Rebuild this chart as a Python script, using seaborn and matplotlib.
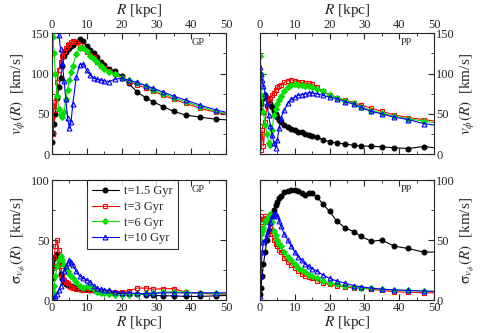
"""Rotation curves and velocity dispersion, GP vs PP, four epochs."""

import matplotlib

matplotlib.use("Agg")
import matplotlib.pyplot as plt
import seaborn as sns
from matplotlib.ticker import MultipleLocator

# ---------------------------------------------------------------------------
# Data
# ---------------------------------------------------------------------------

R = [0.1, 0.3, 0.6, 1.0, 1.5, 2.0, 2.5, 3.0, 3.5, 4.0, 4.5, 5.0, 5.5, 6.0,
     7.0, 8.0, 9.0, 10.0, 11.0, 12.0, 13.0, 14.0, 15.0, 16.5, 18.0, 20.0,
     22.0, 24.5, 27.0, 29.0, 32.0, 35.0, 38.5, 42.5, 47.0, 52.0]

EPOCAS = ["t=1.5 Gyr", "t=3 Gyr", "t=6 Gyr", "t=10 Gyr"]

# v_phi, GP
vphi_gp_15 = [15, 26, 38, 50, 70, 83, 95, 110, 122, 127, 130, 132, 134, 136,
              139, 143, 140, 134, 129, 125, 120, 115, 111, 106, 103, 97,
              88, 77, 70, 65, 59, 53, 48.5, 46, 43.5, 42]
vphi_gp_3 = [45, 25, 65, 55, 90, 105, 115, 122, 128, 132, 135, 137, 139, 140,
             139, 136, 132, 127, 123, 120, 115, 110, 107, 103, 100, 94,
             90, 86, 82, 78, 73, 68, 63, 57, 52, 48]
vphi_gp_6 = [152, 145, 125, 100, 72, 56, 48, 46, 52, 68, 80, 92, 102, 110,
             124, 132, 132, 128, 122, 118, 114, 110, 106, 102, 100, 95,
             92, 88, 85, 80, 75, 70, 65, 59, 53, 49]
vphi_gp_10 = [200, 200, 190, 175, 160, 148, 130, 113, 91, 68, 45, 32, 40, 62,
              96, 111, 112, 104, 98, 94, 93, 92, 91, 90, 93, 94,
              92, 89, 85, 82, 77, 72, 67, 61, 55, 50]

# v_phi, PP
vphi_pp_15 = [55, 62, 68, 71, 73, 70, 66, 62, 58, 53, 50, 46, 43, 40,
              36, 34, 31, 30, 28, 27, 25, 24, 23, 21, 18, 15.5,
              14, 12.5, 11, 10, 10, 9, 8, 7, 9.5, 7]
vphi_pp_3 = [35, 5, 30, 10, 40, 60, 66, 70, 73, 76, 80, 83, 85, 86,
             89, 91, 92.5, 91, 90, 89, 88, 88, 87, 83, 78, 73,
             70, 67, 64, 61, 57, 53, 49, 45.5, 43, 40]
vphi_pp_6 = [122, 100, 72, 52, 36, 25, 14, 11, 30, 48, 56, 62, 67, 72,
             78, 83, 86, 87, 86, 86, 85, 84, 83, 81, 78, 74,
             70, 66, 63, 59, 54, 51, 47, 44, 41, 38]
vphi_pp_10 = [108, 100, 92, 85, 75, 62, 48, 35, 24, 14, 8, 18, 32, 45,
              55, 63, 68, 71, 73, 74, 75, 76, 76, 75, 73, 71,
              69, 65, 62, 58, 53, 50, 46, 43, 38, 35]

# sigma, GP
sig_gp_15 = [10, 18, 28, 35, 38, 30, 22, 18, 15, 13, 12.5, 12, 11.5, 11,
             10, 9, 9, 9, 8.5, 8, 7.5, 7, 7, 6.5, 6, 5.5,
             5, 5, 4.5, 4, 3.5, 3.5, 3, 3, 3.5, 4]
sig_gp_3 = [20, 28, 36, 45, 50, 42, 28, 20, 17, 15, 14, 12, 11, 10,
            9, 9, 8.5, 8, 8, 8, 7.5, 7, 7, 7, 7, 7,
            7.5, 10, 10, 9, 9.5, 9.5, 6.5, 5.5, 5, 5]
sig_gp_6 = [3, 7, 12, 20, 28, 33, 37, 33, 29, 26, 24, 22, 20, 18,
            15, 12, 10, 12, 11, 9, 7, 6, 5.5, 5, 4, 4,
            4, 5, 5.5, 6, 6.5, 7, 6.5, 6, 5.5, 5]
sig_gp_10 = [1, 1.5, 2, 3, 5, 8, 12, 18, 24, 28, 31, 33, 32, 29,
             24, 20, 18, 17, 15, 12, 10, 9, 8.5, 8, 7, 6,
             6, 5.5, 5.5, 5.5, 6, 6, 6, 6, 6, 6]

# sigma, PP
sig_pp_15 = [5, 10, 20, 30, 40, 50, 58, 64, 70, 75, 79, 82, 85, 87,
             90, 91, 92, 92, 91, 89, 88, 89, 89, 86, 80, 74,
             66, 60, 57, 53, 49, 50, 45, 43, 40, 40]
sig_pp_3 = [60, 70, 65, 68, 70, 68, 65, 60, 55, 50, 47, 45, 42, 40,
            35, 32, 29, 27, 24, 22, 20, 19, 18, 16, 14, 13,
            12, 11, 10, 10, 9, 8, 7, 6.5, 6, 6]
sig_pp_6 = [50, 55, 58, 60, 65, 68, 70, 72, 65, 58, 54, 50, 47, 45,
            40, 36, 33, 30, 27, 25, 23, 21, 20, 18, 16, 14,
            13, 12, 11, 10, 10, 9, 8.5, 8, 7.5, 7]
sig_pp_10 = [3, 20, 40, 48, 50, 55, 60, 65, 70, 72, 72, 70, 66, 62,
             55, 50, 45, 40, 36, 33, 30, 28, 26, 24, 21, 18,
             16, 14, 12, 11, 10, 9, 8.5, 8, 7.5, 7]

# ---------------------------------------------------------------------------
# Estilo
# ---------------------------------------------------------------------------

sns.set_style("ticks")
plt.rcParams["font.family"] = ["Liberation Serif", "DejaVu Serif"]
plt.rcParams["mathtext.fontset"] = "stix"

ESTILOS = [
    dict(color="black", marker="o", markerfacecolor="black", markeredgecolor="black", markersize=3.5),
    dict(color="red", marker="s", markerfacecolor="none", markeredgecolor="red", markersize=3),
    dict(color="#00e000", marker="D", markerfacecolor="#00e000", markeredgecolor="#00e000", markersize=3),
    dict(color="blue", marker="^", markerfacecolor="none", markeredgecolor="blue", markersize=3.5),
]

PAINEIS = [
    # (pos, series, sigla, lado do eixo x, lado do eixo y)
    ([0.107, 0.537, 0.359, 0.363], [vphi_gp_15, vphi_gp_3, vphi_gp_6, vphi_gp_10], "GP", "top", "left"),
    ([0.536, 0.537, 0.359, 0.363], [vphi_pp_15, vphi_pp_3, vphi_pp_6, vphi_pp_10], "PP", "top", "right"),
    ([0.107, 0.099, 0.359, 0.360], [sig_gp_15, sig_gp_3, sig_gp_6, sig_gp_10], "GP", "bottom", "left"),
    ([0.536, 0.099, 0.359, 0.360], [sig_pp_15, sig_pp_3, sig_pp_6, sig_pp_10], "PP", "bottom", "right"),
]

fig = plt.figure(figsize=(4.85, 3.33), dpi=100)

for i, (pos, series, sigla, lado_x, lado_y) in enumerate(PAINEIS):
    ax = fig.add_axes(pos)
    for serie, nome, estilo in zip(series, EPOCAS, ESTILOS):
        sns.lineplot(x=R, y=serie, ax=ax, label=nome, sort=False,
                     linewidth=0.8, markeredgewidth=0.8, **estilo)

    ax.set_xlim(0, 50)
    if i < 2:
        ax.set_ylim(0, 150)
        ylabel = r"$v_{\phi}(R)$  [km/s]"
    else:
        ax.set_ylim(0, 100)
        ylabel = r"$\mathrm{\sigma}_{v_{\phi}}(R)$  [km/s]"
    ax.yaxis.set_major_locator(MultipleLocator(50))
    ax.yaxis.set_minor_locator(MultipleLocator(25))
    ax.xaxis.set_major_locator(MultipleLocator(10))
    ax.xaxis.set_minor_locator(MultipleLocator(5))

    ax.tick_params(which="both", direction="in", top=True, right=True,
                   labelsize=9, pad=1.5)
    ax.tick_params(which="major", length=4)
    ax.tick_params(which="minor", length=2)

    if lado_x == "top":
        ax.xaxis.set_label_position("top")
        ax.tick_params(labeltop=True, labelbottom=False)
        ax.set_xlabel(r"$R$ [kpc]", fontsize=11, labelpad=3.5)
    else:
        ax.set_xlabel(r"$R$ [kpc]", fontsize=11, labelpad=0)
    if lado_y == "right":
        ax.yaxis.set_label_position("right")
        ax.tick_params(labelright=True, labelleft=False)

    ax.set_ylabel(ylabel, fontsize=11, labelpad=2)

    ax.text(0.84, 0.9, sigla, transform=ax.transAxes, fontsize=7.5, ha="center")

    if i == 2:
        ax.legend(loc="upper left", bbox_to_anchor=(0.2, 1.0), fontsize=9,
                  frameon=True, fancybox=False, edgecolor="black",
                  handlelength=2.2, handletextpad=0.4, borderpad=0.4,
                  labelspacing=0.3, borderaxespad=0)
        ax.get_legend().get_frame().set_linewidth(0.8)
    else:
        ax.get_legend().remove()

    for sp in ax.spines.values():
        sp.set_linewidth(0.8)

fig.savefig("out.png", dpi=100)
